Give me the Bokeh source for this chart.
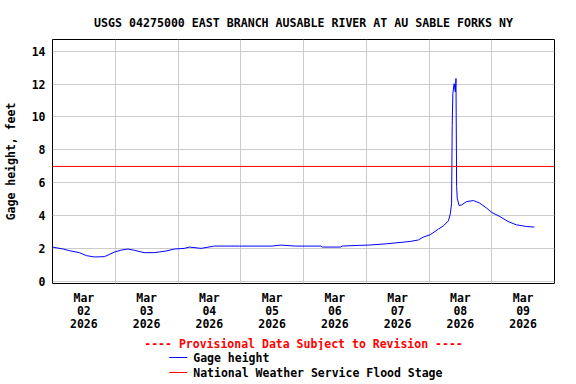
from bokeh.plotting import figure
from bokeh.models import Range1d, FixedTicker, Title
from bokeh.layouts import column
from bokeh.core.properties import value
from bokeh.embed import file_html
from bokeh.resources import INLINE

# ---- data (days since Mar 02 2026 00:00) ----
days = [0.00, 0.17, 0.27, 0.43, 0.54, 0.67, 0.83, 0.99, 1.10, 1.20, 1.31, 1.46,
        1.62, 1.81, 1.94, 2.10, 2.18, 2.37, 2.58, 2.98, 3.50, 3.63, 3.87, 4.27,
        4.30, 4.59, 4.62, 4.87, 5.04, 5.33, 5.49, 5.70, 5.83, 5.91, 6.02, 6.15,
        6.23, 6.31, 6.34, 6.36, 6.37, 6.38, 6.40, 6.42, 6.43, 6.44, 6.45, 6.48,
        6.52, 6.60, 6.71, 6.81, 6.92, 7.00, 7.13, 7.26, 7.39, 7.55, 7.68]
gage = [2.11, 1.99, 1.89, 1.77, 1.59, 1.51, 1.53, 1.81, 1.93, 1.99, 1.91, 1.77,
        1.77, 1.87, 1.99, 2.03, 2.11, 2.03, 2.17, 2.17, 2.17, 2.23, 2.17, 2.17,
        2.11, 2.11, 2.17, 2.21, 2.23, 2.31, 2.37, 2.45, 2.54, 2.72, 2.86, 3.20,
        3.40, 3.70, 4.13, 4.77, 9.50, 11.42, 12.02, 11.52, 12.33, 5.78, 5.07, 4.63,
        4.67, 4.87, 4.93, 4.77, 4.47, 4.21, 3.96, 3.66, 3.46, 3.36, 3.32]
flood_stage = 7.0
flood_x = [0, 8]

label_pos = [0.5, 1.5, 2.5, 3.5, 4.5, 5.5, 6.5, 7.5]
day_labels = ["Mar\n02\n2026", "Mar\n03\n2026", "Mar\n04\n2026", "Mar\n05\n2026",
              "Mar\n06\n2026", "Mar\n07\n2026", "Mar\n08\n2026", "Mar\n09\n2026"]
grid_days = [1, 2, 3, 4, 5, 6, 7]
y_ticks = [0, 2, 4, 6, 8, 10, 12, 14]

title_text = "USGS 04275000 EAST BRANCH AUSABLE RIVER AT AU SABLE FORKS NY"
ylabel_text = "Gage height, feet"
prov_text = "---- Provisional Data Subject to Revision ----"
legend_labels = ["Gage height", "National Weather Service Flood Stage"]
legend_colors = ["#0000ff", "#ff0000"]

FONT = "DejaVu Sans Mono"
FS = "11.5px"

p = figure(width=576, height=350, output_backend="svg", toolbar_location=None,
           x_range=Range1d(0, 8), y_range=Range1d(-0.1, 14.7),
           min_border_left=51, min_border_right=22, min_border_top=39,
           min_border_bottom=66)
p.background_fill_color = "white"
p.border_fill_color = "white"
p.outline_line_color = "black"
p.outline_line_width = 1
p.outline_line_alpha = 1.0

# title
p.title.text = title_text
p.title.align = "center"
p.title.text_font = FONT
p.title.text_font_size = "11.6px"
p.title.text_font_style = "bold"
p.title.text_color = "black"
p.title.standoff = 19

# axes
p.xaxis.ticker = FixedTicker(ticks=label_pos)
p.xaxis.major_label_overrides = {k: v for k, v in zip(label_pos, day_labels)}
p.yaxis.ticker = FixedTicker(ticks=y_ticks)
for ax in (p.xaxis[0], p.yaxis[0]):
    ax.axis_line_color = None
    ax.major_tick_line_color = None
    ax.minor_tick_line_color = None
    ax.major_tick_in = 0
    ax.major_tick_out = 0
    ax.major_label_text_font = FONT
    ax.major_label_text_font_size = FS
    ax.major_label_text_font_style = "bold"
    ax.major_label_text_color = "black"
p.xaxis.major_label_standoff = 7
p.xaxis.major_label_text_line_height = 0.95
p.yaxis.major_label_standoff = 7
p.yaxis.axis_label = ylabel_text
p.yaxis.axis_label_text_font = FONT
p.yaxis.axis_label_text_font_size = FS
p.yaxis.axis_label_text_font_style = "bold"
p.yaxis.axis_label_text_color = "black"
p.yaxis.axis_label_standoff = 11

# grids
p.xgrid.ticker = FixedTicker(ticks=grid_days)
p.ygrid.ticker = FixedTicker(ticks=y_ticks)
p.grid.grid_line_color = "#cccccc"
p.grid.grid_line_width = 1

# data
p.line(days, gage, line_color="#0000ff", line_width=1)
p.line(flood_x, [flood_stage, flood_stage], line_color="#ff0000", line_width=1)

# provisional note (below the axis)
prov = Title(text=prov_text, align="center", text_font=FONT, text_font_size=FS,
             text_font_style="bold", text_color="#ff0000", standoff=0)
p.add_layout(prov, "below")

# legend strip (pixel-space figure under the chart; its frame is aligned
# with the main chart's frame, i.e. spans page x 51..554)
LH = 34
lg = figure(width=576, height=LH, output_backend="svg", toolbar_location=None,
            x_range=Range1d(51, 554), y_range=Range1d(LH, 0),
            x_axis_type=None, y_axis_type=None,
            min_border_left=51, min_border_right=22, min_border_top=0, min_border_bottom=0)
lg.grid.visible = False
lg.outline_line_color = None
lg.background_fill_color = "white"
lg.border_fill_color = "white"
line_y = [7, 22]
text_y = [7.5, 22.5]
lg.segment(x0=[168, 168], x1=[186, 186], y0=line_y, y1=line_y,
           line_color=legend_colors, line_width=1)
lg.text(x=[192, 192], y=text_y, text=legend_labels, text_font=value(FONT),
        text_font_size=FS, text_font_style="bold", text_color="black",
        text_baseline="middle", text_align="left")

layout = column(p, lg, spacing=0)
open("out.html", "w").write(file_html(layout, INLINE))
